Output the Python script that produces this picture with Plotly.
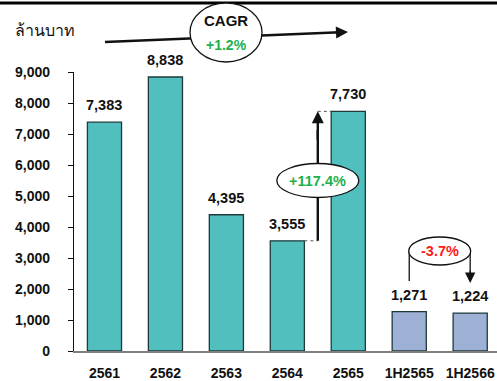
import plotly.graph_objects as go

categories = ["2561", "2562", "2563", "2564", "2565", "1H2565", "1H2566"]
values = [7383, 8838, 4395, 3555, 7730, 1271, 1224]
bar_colors = ["#52BFBF"] * 5 + ["#9DB1D6"] * 2
y_ticks = [0, 1000, 2000, 3000, 4000, 5000, 6000, 7000, 8000, 9000]
cagr_text = "+1.2%"
yoy_text = "+117.4%"
half_text = "-3.7%"

FONT = "Liberation Sans, Arial, sans-serif"
GREEN = "#1DB04B"
RED = "#FF1A1A"
INK = "#111"

W, H = 497, 381
ML, MR, MT, MB = 74, 0, 72, 30
PW, PH = W - ML - MR, H - MT - MB


def px(x):
    return (x - ML) / PW


def py(y):
    return (H - MB - y) / PH


fig = go.Figure()
fig.add_trace(go.Bar(
    x=list(range(len(categories))),
    y=values,
    width=0.56,
    marker=dict(color=bar_colors, line=dict(color="#1E3A3A", width=1.3)),
    hoverinfo="skip",
))

annotations = []
for i, v in enumerate(values):
    annotations.append(dict(
        x=i, y=v, xref="x", yref="y", text=f"{v:,}", showarrow=False,
        yshift=17, font=dict(family=FONT, size=14.5, color=INK, weight="bold"),
    ))

# unit label
annotations.append(dict(
    x=px(13), y=py(30), xref="paper", yref="paper", xanchor="left", yanchor="middle",
    text="ล้านบาท", showarrow=False,
    font=dict(family="Noto Sans, DejaVu Sans, sans-serif", size=16, color=INK),
))

bracket_top = 3226      # level of the half-year bracket
left_leg_end = 2258
right_leg_end = 2194
yoy_mid = 5500

shapes = [
    # top rule
    dict(type="line", xref="paper", yref="paper", x0=px(0), x1=px(W), y0=py(3), y1=py(3),
         line=dict(color="#000", width=3)),
    # CAGR trend line
    dict(type="line", xref="paper", yref="paper", x0=px(105), x1=px(340), y0=py(42), y1=py(32.3),
         line=dict(color=INK, width=2.4)),
    # 2564 -> 2565 growth line
    dict(type="line", xref="x", yref="y", x0=3.5, x1=3.5, y0=values[3], y1=values[4] - 600,
         line=dict(color=INK, width=2.4)),
    # dotted guides at 3,555 and 7,730
    dict(type="line", xref="x", yref="y", x0=3.28, x1=3.5, y0=values[3], y1=values[3],
         line=dict(color="#555", width=1, dash="dot")),
    dict(type="line", xref="x", yref="y", x0=3.5, x1=3.72, y0=values[4], y1=values[4],
         line=dict(color="#555", width=1, dash="dot")),
    # half-year bracket
    dict(type="line", xref="x", yref="y", x0=5, x1=5, y0=left_leg_end, y1=bracket_top,
         line=dict(color=INK, width=1.3)),
    dict(type="line", xref="x", yref="y", x0=5, x1=6, y0=bracket_top, y1=bracket_top,
         line=dict(color=INK, width=1.3)),
    dict(type="line", xref="x", yref="y", x0=6, x1=6, y0=bracket_top, y1=right_leg_end + 300,
         line=dict(color=INK, width=1.3)),
    # ellipses
    dict(type="circle", xref="x", yref="y", xsizemode="pixel", ysizemode="pixel",
         xanchor=3.5, yanchor=yoy_mid, x0=-41, x1=41, y0=-17, y1=17,
         fillcolor="white", line=dict(color=INK, width=1.3), layer="above"),
    dict(type="circle", xref="x", yref="y", xsizemode="pixel", ysizemode="pixel",
         xanchor=5.5, yanchor=bracket_top, x0=-31, x1=31, y0=-14, y1=14,
         fillcolor="white", line=dict(color=INK, width=1.3), layer="above"),
    dict(type="circle", xref="paper", yref="paper",
         x0=px(190), x1=px(262), y0=py(3), y1=py(62),
         fillcolor="white", line=dict(color=INK, width=1.3), layer="above"),
]

# arrowheads
annotations += [
    dict(x=px(348), y=py(32), xref="paper", yref="paper",
         ax=-14, ay=0.6, axref="pixel", ayref="pixel",
         text="", showarrow=True, arrowhead=2, arrowsize=1.0, arrowwidth=2.4, arrowcolor=INK),
    dict(x=3.5, y=values[4], xref="x", yref="y", ax=0, ay=30,
         text="", showarrow=True, arrowhead=2, arrowsize=1.0, arrowwidth=2.4, arrowcolor=INK),
    dict(x=6, y=right_leg_end, xref="x", yref="y", ax=0, ay=-14,
         text="", showarrow=True, arrowhead=2, arrowsize=1.6, arrowwidth=1.3, arrowcolor=INK),
]

annotations += [
    dict(x=px(226), y=py(21), xref="paper", yref="paper", yanchor="middle",
         text="CAGR", showarrow=False,
         font=dict(family=FONT, size=15, color=INK, weight="bold")),
    dict(x=px(226), y=py(45), xref="paper", yref="paper", yanchor="middle",
         text=cagr_text, showarrow=False,
         font=dict(family=FONT, size=14, color=GREEN, weight="bold")),
    dict(x=3.5, y=yoy_mid, xref="x", yref="y", yanchor="middle", text=yoy_text, showarrow=False,
         font=dict(family=FONT, size=14.5, color=GREEN, weight="bold")),
    dict(x=5.5, y=bracket_top, xref="x", yref="y", yanchor="middle", text=half_text,
         showarrow=False, font=dict(family=FONT, size=14.5, color=RED, weight="bold")),
]

fig.update_layout(
    width=W, height=H,
    margin=dict(l=ML, r=MR, t=MT, b=MB),
    paper_bgcolor="white", plot_bgcolor="white",
    showlegend=False, bargap=0.44,
    annotations=annotations, shapes=shapes,
    xaxis=dict(
        range=[-0.5, 6.44], tickmode="array", tickvals=list(range(len(categories))),
        ticktext=categories, showline=True, linecolor="#808080", linewidth=2,
        ticks="", showgrid=False, zeroline=False, fixedrange=True, ticklabelstandoff=8,
        tickfont=dict(family=FONT, size=14, color=INK, weight="bold"),
    ),
    yaxis=dict(
        range=[0, 9000], tickmode="array", tickvals=y_ticks,
        ticktext=[f"{t:,}" for t in y_ticks], showline=True, linecolor="#111",
        linewidth=1.3, ticks="outside", ticklen=5, tickcolor="#111", ticklabelstandoff=15,
        showgrid=False, zeroline=False, fixedrange=True,
        tickfont=dict(family=FONT, size=14, color=INK, weight="bold"),
    ),
)

fig.write_html("out.html", config={"displayModeBar": False})
